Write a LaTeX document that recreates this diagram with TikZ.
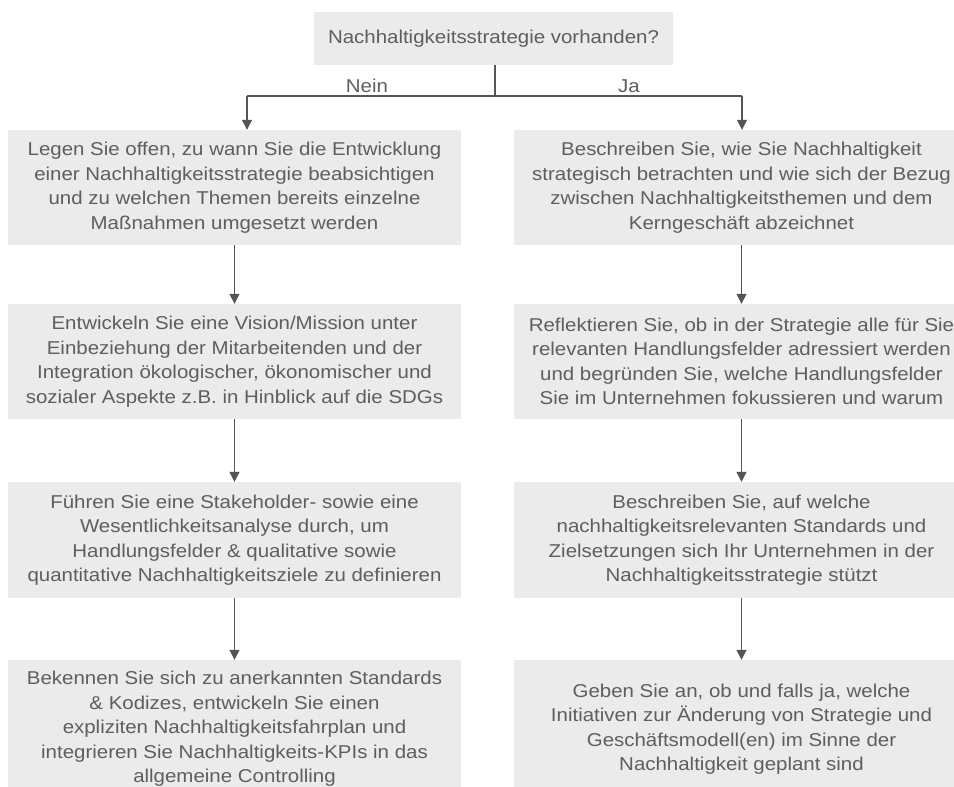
\documentclass[tikz,border=0pt]{standalone}
\usepackage{fontspec}
\setmainfont{Liberation Sans}[FakeStretch=1.1]
\usetikzlibrary{arrows.meta}
\definecolor{boxfill}{HTML}{EBEBEB}
\definecolor{txt}{HTML}{5E5E5E}
\definecolor{linec}{HTML}{555555}
\tikzset{
  box/.style={fill=boxfill, text=txt, inner sep=0pt, align=center,
    minimum width=453pt, font=\fontsize{18.6}{24.5}\selectfont},
  lbl/.style={text=txt, inner sep=0pt, font=\fontsize{18.6}{24.5}\selectfont},
  conn/.style={draw=linec, line width=1.3pt},
  arr/.style={conn, -{Triangle[width=10pt,length=10pt]}}
}
\begin{document}
\begin{tikzpicture}[x=1pt,y=-1pt]
\useasboundingbox (0,0) rectangle (954,787);
\clip (0,0) rectangle (954,787);
\fill[white] (0,0) rectangle (954,787);

\node[box, minimum width=359pt, minimum height=53pt] (T) at (493.5,38.5) {Nachhaltigkeitsstrategie vorhanden?};

\node[box, minimum height=115pt] (L1) at (234.5,187.5) {Legen Sie offen, zu wann Sie die Entwicklung\\einer Nachhaltigkeitsstrategie beabsichtigen\\und zu welchen Themen bereits einzelne\\Maßnahmen umgesetzt werden};
\node[box, minimum height=115pt] (L2) at (234.5,361.5) {Entwickeln Sie eine Vision/Mission unter\\Einbeziehung der Mitarbeitenden und der\\Integration ökologischer, ökonomischer und\\sozialer Aspekte z.B. in Hinblick auf die SDGs};
\node[box, minimum height=116pt] (L3) at (234.5,540) {Führen Sie eine Stakeholder- sowie eine\\Wesentlichkeitsanalyse durch, um\\Handlungsfelder \& qualitative sowie\\quantitative Nachhaltigkeitsziele zu definieren};
\node[box, minimum height=138pt] (L4) at (234.5,729) {Bekennen Sie sich zu anerkannten Standards\\\& Kodizes, entwickeln Sie einen\\expliziten Nachhaltigkeitsfahrplan und\\integrieren Sie Nachhaltigkeits-KPIs in das\\allgemeine Controlling};

\node[box, minimum height=115pt, minimum width=455pt] (R1) at (741.5,187.5) {Beschreiben Sie, wie Sie Nachhaltigkeit\\strategisch betrachten und wie sich der Bezug\\zwischen Nachhaltigkeitsthemen und dem\\Kerngeschäft abzeichnet};
\node[box, minimum height=115pt, minimum width=455pt] (R2) at (741.5,361.5) {Reflektieren Sie, ob in der Strategie alle für Sie\\relevanten Handlungsfelder adressiert werden\\und begründen Sie, welche Handlungsfelder\\Sie im Unternehmen fokussieren und warum};
\node[box, minimum height=116pt, minimum width=455pt] (R3) at (741.5,540) {Beschreiben Sie, auf welche\\nachhaltigkeitsrelevanten Standards und\\Zielsetzungen sich Ihr Unternehmen in der\\Nachhaltigkeitsstrategie stützt};
\node[box, minimum height=138pt, minimum width=455pt] (R4) at (741.5,729) {Geben Sie an, ob und falls ja, welche\\Initiativen zur Änderung von Strategie und\\Geschäftsmodell(en) im Sinne der\\Nachhaltigkeit geplant sind};

\node[lbl] (nein) at (367,86) {Nein};
\node[lbl] (ja) at (629,86) {Ja};

\coordinate (split) at (495,96);
\coordinate (lx) at (247,96);
\coordinate (rx) at (742,96);
\draw[conn] (T.south -| split) -- (split);
\draw[conn] (lx) -- (rx);
\draw[arr] (lx) -- (L1.north -| lx);
\draw[arr] (rx) -- (R1.north -| rx);

\draw[arr] (L1.south) -- (L2.north);
\draw[arr] (L2.south) -- (L3.north);
\draw[arr] (L3.south) -- (L4.north);
\draw[arr] (R1.south) -- (R2.north);
\draw[arr] (R2.south) -- (R3.north);
\draw[arr] (R3.south) -- (R4.north);
\end{tikzpicture}
\end{document}
